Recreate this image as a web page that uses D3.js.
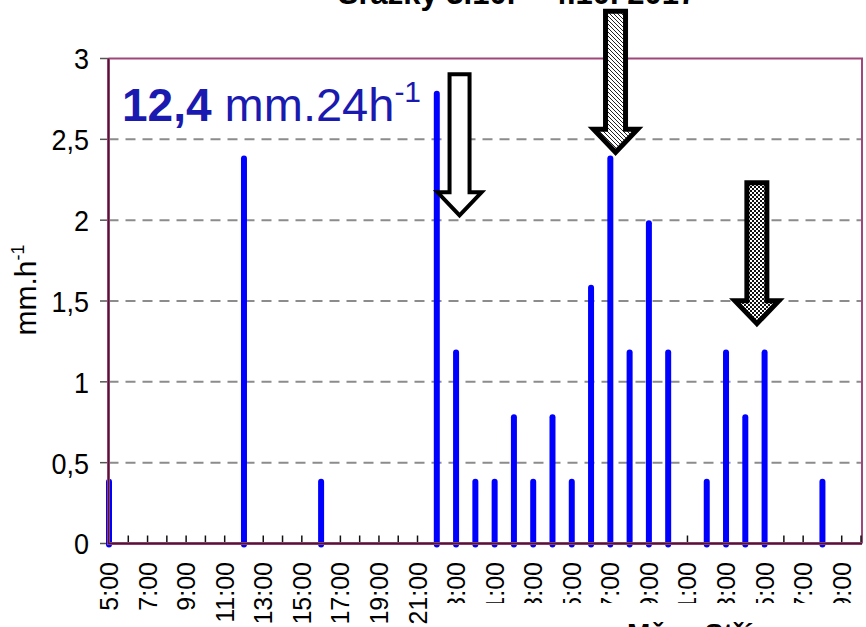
<!DOCTYPE html>
<html><head><meta charset="utf-8">
<script src="https://cdn.jsdelivr.net/npm/d3@7/dist/d3.min.js"></script>
<style>body{margin:0;background:#fff}svg{display:block}text{font-family:"Liberation Sans",Arial,sans-serif}</style>
</head><body><svg id="c" width="866" height="627"></svg>
<script>
const hours = ["5:00","6:00","7:00","8:00","9:00","10:00","11:00","12:00","13:00","14:00","15:00","16:00","17:00","18:00","19:00","20:00","21:00","22:00","23:00","0:00","1:00","2:00","3:00","4:00","5:00","6:00","7:00","8:00","9:00","10:00","11:00","12:00","13:00","14:00","15:00","16:00","17:00","18:00","19:00","20:00"];
const rain = [0.4,0,0,0,0,0,0,2.4,0,0,0,0.4,0,0,0,0,0,2.8,1.2,0.4,0.4,0.8,0.4,0.8,0.4,1.6,2.4,1.2,2.0,1.2,0,0.4,1.2,0.8,1.2,0,0,0.4,0,0];
const yTicks = [0,0.5,1,1.5,2,2.5,3];
const yTickLabels = ["0","0,5","1","1,5","2","2,5","3"];
const arrows = [ {idx:18.18, val:2.03, fill:"white"}, {idx:26.27, val:2.42, fill:"url(#hatch)"}, {idx:33.6, val:1.36, fill:"url(#check)"} ];
const titleText = "Srážky 3.10. – 4.10. 2017";
const totalBold = "12,4", totalUnit = " mm.24h", totalSup = "-1";

const svg = d3.select("#c");
const L=108.5, R=862, T=58.5, B=543.5;
const x = d3.scalePoint().domain(d3.range(hours.length)).range([109, 861]);
const step = x.step();
const xf = i => x(0) + i*step;
const y = d3.scaleLinear().domain([0,3]).range([B, T]);

const defs = svg.append("defs");
const ph = defs.append("pattern").attr("id","hatch").attr("width",4).attr("height",4).attr("patternUnits","userSpaceOnUse");
ph.append("rect").attr("width",4).attr("height",4).attr("fill","#fff");
ph.append("path").attr("d","M-1,-1L5,5M-1,3L1,5M3,-1L5,1").attr("stroke","#222").attr("stroke-width",1);
const pc = defs.append("pattern").attr("id","check").attr("width",4).attr("height",4).attr("patternUnits","userSpaceOnUse");
pc.append("rect").attr("width",4).attr("height",4).attr("fill","#fff");
pc.append("rect").attr("width",2).attr("height",2).attr("fill","#111");
pc.append("rect").attr("x",2).attr("y",2).attr("width",2).attr("height",2).attr("fill","#111");

// title (cut off at top)
svg.append("text").attr("x",517).attr("y",4).attr("text-anchor","middle").attr("font-weight","bold").attr("font-size",31).text(titleText);

// gridlines
svg.append("g").selectAll("line").data(yTicks.filter(v=>v>0&&v<3)).join("line")
  .attr("x1",L).attr("x2",R).attr("y1",d=>y(d)).attr("y2",d=>y(d))
  .attr("stroke","#8c8c8c").attr("stroke-width",2).attr("stroke-dasharray","10,7");

// frame top/right
svg.append("path").attr("d",`M${L},${T}H${R}V${B}`).attr("fill","none").attr("stroke","#a0467a").attr("stroke-width",2);

// y ticks and labels
svg.append("g").selectAll("line").data(yTicks).join("line")
  .attr("x1",100).attr("x2",L).attr("y1",d=>y(d)).attr("y2",d=>y(d)).attr("stroke","#555").attr("stroke-width",1.5);
svg.append("g").selectAll("text").data(yTicks).join("text")
  .attr("transform",d=>`translate(89,${y(d)}) scale(1,1.12)`).attr("dy","0.36em").attr("text-anchor","end").attr("font-size",27)
  .text((d,i)=>yTickLabels[i]);

// y title
const yt = svg.append("text").attr("transform","translate(36,290) rotate(-90)").attr("text-anchor","middle").attr("font-size",30);
yt.append("tspan").text("mm.h");
yt.append("tspan").attr("font-size",18).attr("dy",-12).text("-1");

// x ticks
svg.append("g").selectAll("line").data(d3.range(hours.length)).join("line")
  .attr("x1",d=>x(d)).attr("x2",d=>x(d)).attr("y1",B-8).attr("y2",B).attr("stroke","#111").attr("stroke-width",1.5);

// bars
svg.append("g").selectAll("line").data(rain.map((v,i)=>({v,i})).filter(d=>d.v>0)).join("line")
  .attr("x1",d=>x(d.i)).attr("x2",d=>x(d.i)).attr("y1",B+1).attr("y2",d=>y(d.v)+3)
  .attr("stroke","#0000ff").attr("stroke-width",6).attr("stroke-linecap","round");

// axes left/bottom
svg.append("path").attr("d",`M${L},${T}V${B}H${R}`).attr("fill","none").attr("stroke","#a0467a").attr("stroke-width",3);
svg.append("path").attr("d",`M${L},${T}V${B}H${R}`).attr("fill","none").attr("stroke","#4a1830").attr("stroke-width",1.3);

// x labels
svg.append("g").selectAll("text").data(d3.range(0,hours.length,2)).join("text")
  .attr("transform",d=>`translate(${x(d)},562) rotate(-90)`).attr("dy","0.36em").attr("text-anchor","end").attr("font-size",25)
  .text(d=>hours[d]);

// box at bottom
svg.append("rect").attr("x",440).attr("y",603).attr("width",430).attr("height",30).attr("fill","#fff");
svg.append("text").attr("x",627).attr("y",643).attr("font-weight","bold").attr("font-size",28).text("Měsa Střím");

// total text
const tt = svg.append("text").attr("x",122).attr("y",121).attr("fill","#1a1ab0").attr("font-size",46);
tt.append("tspan").attr("font-weight","bold").text(totalBold);
tt.append("tspan").attr("font-size",47).text(totalUnit);
tt.append("tspan").attr("font-size",30).attr("dy",-19).text(totalSup);

// arrows
const aLen=141, hh=23, sw=10, hw=22;
svg.append("g").selectAll("path").data(arrows).join("path")
  .attr("d",d=>{const tx=xf(d.idx), ty=y(d.val);
    return `M${tx},${ty}L${tx-hw},${ty-hh}H${tx-sw}V${ty-aLen}H${tx+sw}V${ty-hh}H${tx+hw}Z`;})
  .attr("fill",d=>d.fill).attr("stroke","#000").attr("stroke-width",(d,i)=>i==0?4:5).attr("stroke-linejoin","miter");
</script></body></html>
